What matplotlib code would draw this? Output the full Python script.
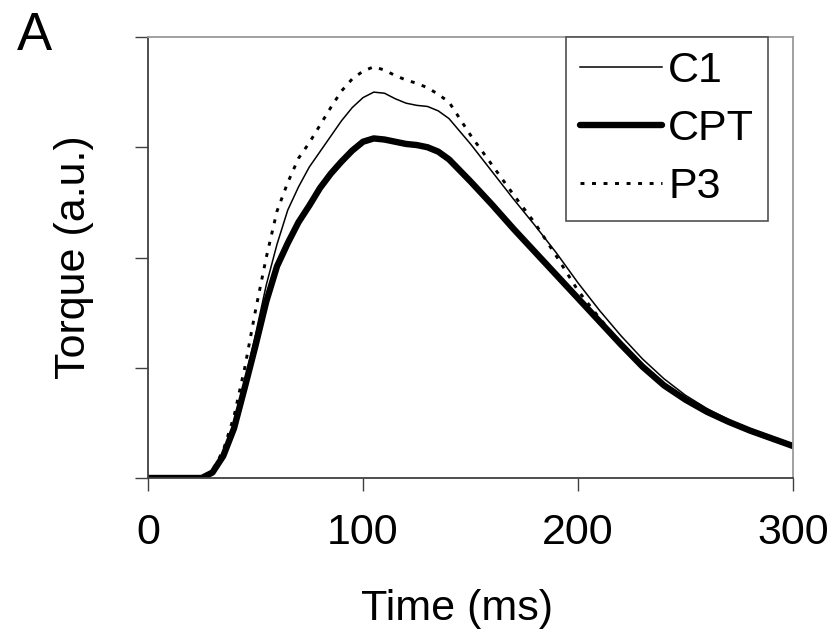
import matplotlib
matplotlib.use("Agg")
import matplotlib.pyplot as plt

plt.rcParams['font.family'] = ['Liberation Sans', 'DejaVu Sans']

time_ms = [0, 20, 25, 30, 35, 40, 45, 50, 55, 60, 65, 70, 75, 80, 85, 90, 95, 100,
           105, 110, 115, 120, 125, 130, 135, 140, 150, 160, 170, 180, 190, 200,
           210, 220, 230, 240, 250, 260, 270, 280, 290, 300]

c1 = [0, 0, 0, 0.06, 0.22, 0.50, 0.88, 1.30, 1.75, 2.12, 2.43, 2.64, 2.82, 2.96,
      3.10, 3.24, 3.36, 3.45, 3.50, 3.49, 3.44, 3.40, 3.38, 3.37, 3.33, 3.26,
      3.03, 2.78, 2.53, 2.29, 2.04, 1.77, 1.52, 1.29, 1.08, 0.90, 0.75, 0.63,
      0.53, 0.44, 0.36, 0.29]

cpt = [0, 0, 0, 0.05, 0.20, 0.45, 0.82, 1.20, 1.60, 1.92, 2.13, 2.32, 2.47, 2.63,
       2.76, 2.87, 2.97, 3.05, 3.08, 3.07, 3.05, 3.03, 3.02, 3.00, 2.96, 2.89,
       2.69, 2.48, 2.26, 2.05, 1.84, 1.63, 1.42, 1.21, 1.01, 0.84, 0.71, 0.60,
       0.51, 0.43, 0.36, 0.29]

p3 = [0, 0, 0, 0.07, 0.25, 0.56, 1.00, 1.52, 2.00, 2.42, 2.68, 2.90, 3.04, 3.20,
      3.36, 3.51, 3.62, 3.69, 3.73, 3.70, 3.65, 3.61, 3.58, 3.54, 3.48, 3.41,
      3.11, 2.84, 2.57, 2.31, 2.01, 1.70, 1.45, 1.22, 1.02, 0.85, 0.72, 0.61,
      0.52, 0.43, 0.36, 0.29]

x_ticks = [0, 100, 200, 300]
y_ticks = [0, 1, 2, 3, 4]

W, H = 837, 629
fig = plt.figure(figsize=(W / 100, H / 100), dpi=100)
ax = fig.add_axes([148 / W, 1 - 478 / H, (793 - 148) / W, (478 - 37) / H])

ax.plot(time_ms, c1, color='black', lw=1.1, label='C1')
ax.plot(time_ms, cpt, color='black', lw=4.6, solid_capstyle='round',
        solid_joinstyle='round', label='CPT')
ax.plot(time_ms, p3, color='black', lw=2.1, dashes=(1.35, 2.6), label='P3')

ax.set_xlim(0, 300)
ax.set_ylim(0, 4)
ax.set_xticks(x_ticks)
ax.set_xticklabels([str(t) for t in x_ticks])
ax.set_yticks(y_ticks)
ax.set_yticklabels([])

ax.tick_params(axis='both', direction='out', length=9.5, width=1.0, color='#404040')
ax.tick_params(axis='x', labelsize=31, pad=16)

for side in ['left', 'bottom']:
    ax.spines[side].set_color('#404040')
    ax.spines[side].set_linewidth(1.3)
for side in ['top', 'right']:
    ax.spines[side].set_color('#9a9a9a')
    ax.spines[side].set_linewidth(1.3)

ax.set_xlabel('Time (ms)', fontsize=31)
ax.xaxis.label.set_verticalalignment('baseline')
ax.xaxis.set_label_coords((457 - 148) / (793 - 148), (478 - 620) / (478 - 37))

ax.set_ylabel('Torque (a.u.)', fontsize=31)
ax.yaxis.label.set_verticalalignment('baseline')
ax.yaxis.set_label_coords((85 - 148) / (793 - 148), 0.5)

leg = ax.legend(loc='upper right', bbox_to_anchor=(768 / W, 1 - 37 / H),
                bbox_transform=fig.transFigure, borderaxespad=0,
                fontsize=31, handlelength=1.9, handletextpad=0.15,
                labelspacing=0.42, borderpad=0.32, fancybox=False,
                frameon=True)
leg.get_frame().set_edgecolor('#505050')
leg.get_frame().set_linewidth(1.2)
leg.get_frame().set_facecolor('white')
leg.get_frame().set_alpha(1)

fig.text(17 / W, 1 - 50 / H, 'A', fontsize=38, ha='left', va='baseline')

fig.savefig('out.png', dpi=100)
